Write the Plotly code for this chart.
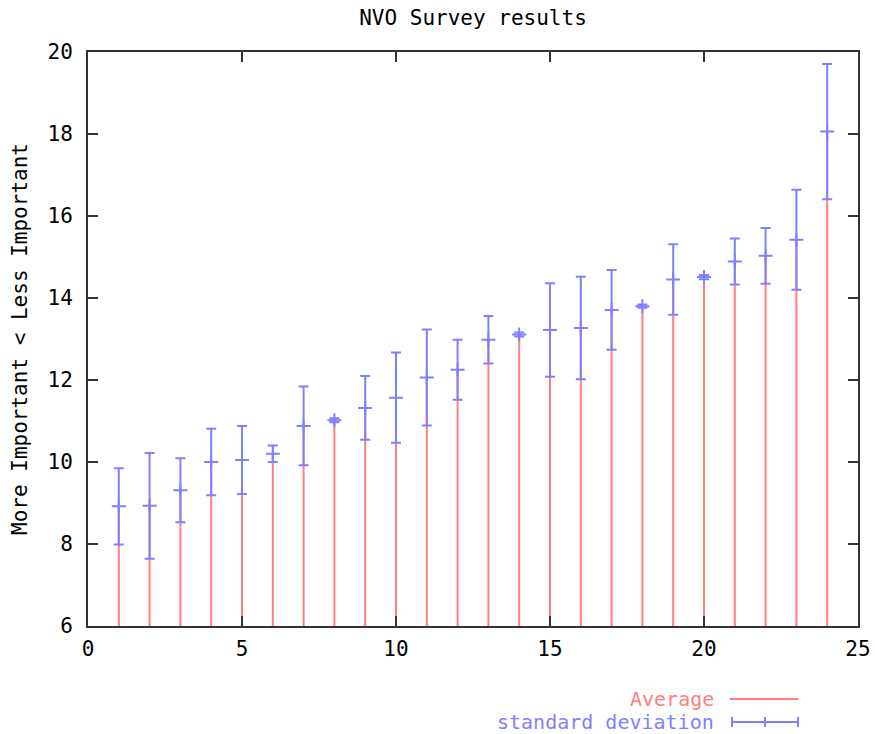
import plotly.graph_objects as go

# ---- data ----
question = list(range(1, 25))
average = [8.92, 8.93, 9.31, 10.00, 10.05, 10.20, 10.88, 11.02,
           11.32, 11.57, 12.06, 12.25, 12.98, 13.11, 13.22, 13.27,
           13.71, 13.80, 14.45, 14.51, 14.89, 15.03, 15.42, 18.06]
std_dev = [0.93, 1.29, 0.78, 0.81, 0.83, 0.20, 0.96, 0.05,
           0.78, 1.10, 1.17, 0.73, 0.58, 0.05, 1.14, 1.25,
           0.97, 0.04, 0.86, 0.05, 0.56, 0.68, 1.22, 1.65]

title_text = "NVO Survey results"
y_label = "More Important < Less Important"
x_ticks = [0, 5, 10, 15, 20, 25]
y_ticks = [6, 8, 10, 12, 14, 16, 18, 20]
y_base = 6

RED = "#ff8080"
BLUE = "#8080ff"
AXIS = "#333333"
FONT = "DejaVu Sans Mono"
FS = 21
KEY_FS = 20

FIG_W, FIG_H = 875, 734
# plot area in pixels
L, R, T, B = 88, 858, 52, 626
W, H = R - L, B - T

# impulses from the baseline up to the average
imp_x, imp_y = [], []
for xv, yv in zip(question, average):
    imp_x += [xv, xv, None]
    imp_y += [y_base, yv, None]

fig = go.Figure()
fig.add_trace(go.Scatter(
    x=imp_x, y=imp_y, mode="lines", name="Average",
    line=dict(color=RED, width=2), hoverinfo="skip"))
fig.add_trace(go.Scatter(
    x=question, y=average, mode="markers", name="standard deviation",
    marker=dict(symbol="cross-thin", size=10, color=BLUE,
                line=dict(color=BLUE, width=2)),
    error_y=dict(type="data", array=std_dev, visible=True,
                 color=BLUE, thickness=2, width=5)))

axis_common = dict(
    showline=True, linecolor=AXIS, linewidth=2, mirror="ticks",
    ticks="inside", ticklen=10, tickwidth=1.5, tickcolor=AXIS,
    showgrid=False, zeroline=False,
    tickfont=dict(family=FONT, size=FS, color="black"))

fig.update_xaxes(range=[0, 25], tickvals=x_ticks, ticklabelstandoff=3, **axis_common)
fig.update_yaxes(range=[6, 20], tickvals=y_ticks, ticklabelstandoff=9,
                 title=dict(text=y_label, font=dict(family=FONT, size=FS, color="black"),
                            standoff=14),
                 **axis_common)

def px(xp):
    return (xp - L) / W
def py(yp):
    return (B - yp) / H

# gnuplot-style key: text on the left, sample on the right
KEY_Y1, KEY_Y2 = 699, 722
shapes = [
    dict(type="line", xref="paper", yref="paper", x0=px(730), x1=px(798),
         y0=py(KEY_Y1), y1=py(KEY_Y1), line=dict(color=RED, width=2)),
    dict(type="line", xref="paper", yref="paper", x0=px(732), x1=px(798),
         y0=py(KEY_Y2), y1=py(KEY_Y2), line=dict(color=BLUE, width=2)),
]
for xc in (732, 765, 798):
    shapes.append(dict(type="line", xref="paper", yref="paper", x0=px(xc), x1=px(xc),
                       y0=py(KEY_Y2 - 5), y1=py(KEY_Y2 + 5), line=dict(color=BLUE, width=2)))

annotations = [
    dict(text="Average", xref="paper", yref="paper", x=px(716), y=py(KEY_Y1),
         xanchor="right", yanchor="middle", showarrow=False,
         font=dict(family=FONT, size=KEY_FS, color=RED)),
    dict(text="standard deviation", xref="paper", yref="paper", x=px(716), y=py(KEY_Y2),
         xanchor="right", yanchor="middle", showarrow=False,
         font=dict(family=FONT, size=KEY_FS, color=BLUE)),
]

fig.update_layout(
    width=FIG_W, height=FIG_H,
    margin=dict(l=L, r=FIG_W - R, t=T, b=FIG_H - B, autoexpand=False),
    paper_bgcolor="white", plot_bgcolor="white",
    showlegend=False,
    title=dict(text=title_text, x=0.5, xref="paper",
               y=1 - 18 / FIG_H, yref="container",
               xanchor="center", yanchor="middle",
               font=dict(family=FONT, size=FS, color="black")),
    shapes=shapes, annotations=annotations)

fig.write_html(
    "out.html",
    config={"displayModeBar": False},
    post_script="document.body.style.margin='0px';document.body.style.overflow='hidden';")
